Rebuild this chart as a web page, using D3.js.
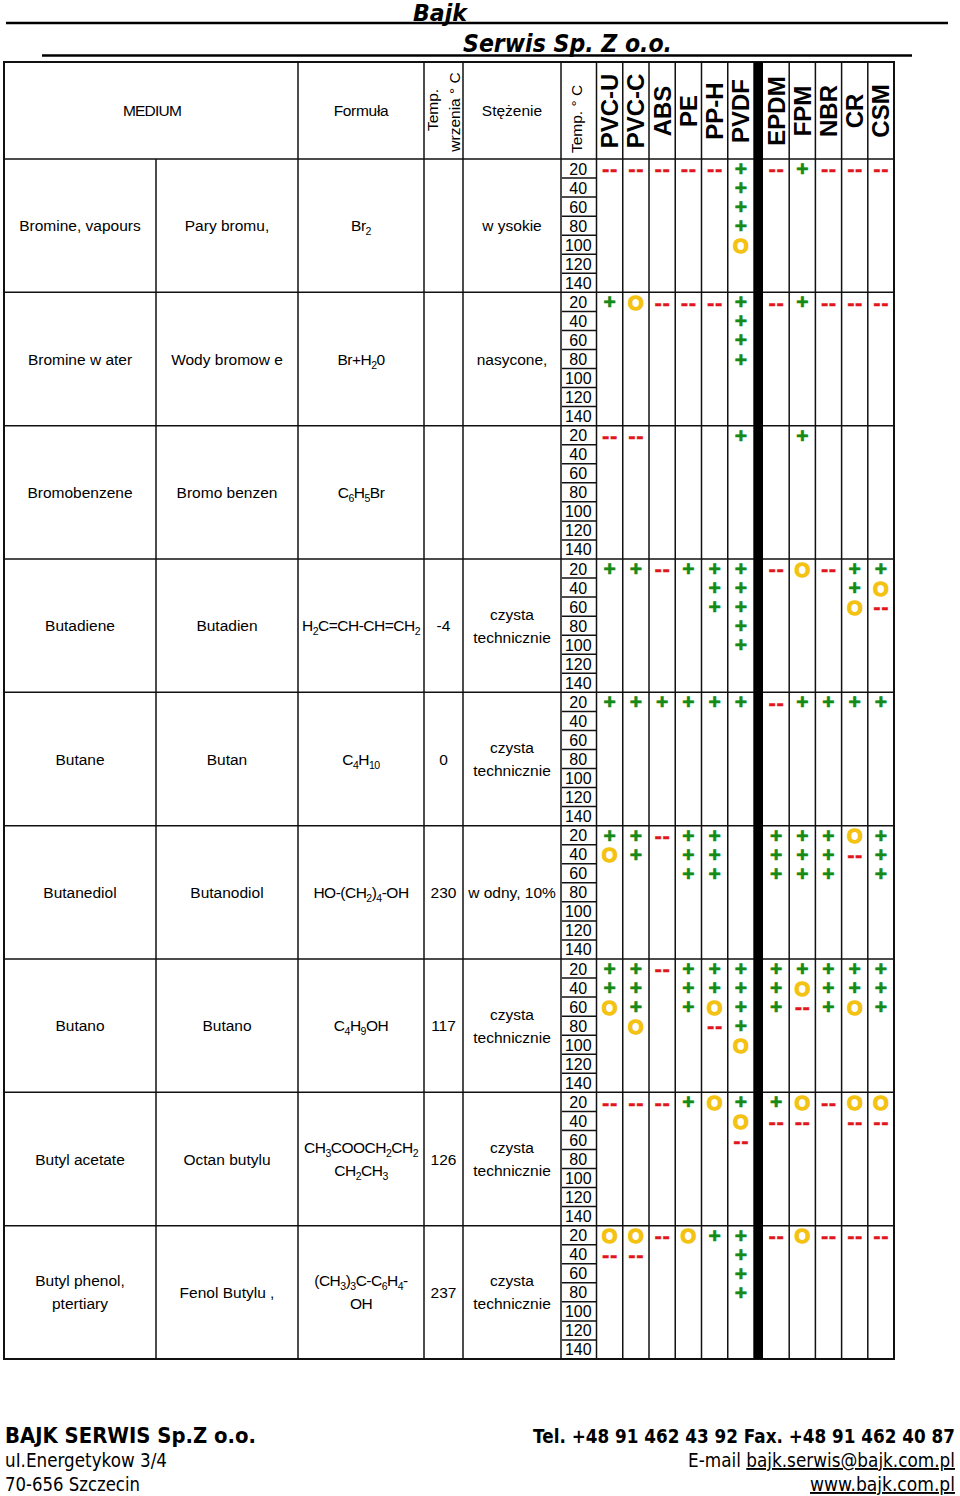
<!DOCTYPE html>
<html><head><meta charset="utf-8">
<script src="https://cdn.jsdelivr.net/npm/d3@7"></script>
<style>
body{margin:0;background:#fff;}
svg{display:block;}
</style></head>
<body>
<script>
// ---------- DATA ----------
const materials = ["PVC-U","PVC-C","ABS","PE","PP-H","PVDF","EPDM","FPM","NBR","CR","CSM"];
const temps = [20,40,60,80,100,120,140];
const mediumEn = ["Bromine, vapours","Bromine w ater","Bromobenzene","Butadiene","Butane","Butanediol","Butano","Butyl acetate","Butyl phenol,\nptertiary"];
const mediumPl = ["Pary bromu,","Wody bromow e","Bromo benzen","Butadien","Butan","Butanodiol","Butano","Octan butylu","Fenol Butylu ,"];
const formulas = ["Br{2}","Br+H{2}0","C{6}H{5}Br","H{2}C=CH-CH=CH{2}","C{4}H{10}","HO-(CH{2}){4}-OH","C{4}H{9}OH","CH{3}COOCH{2}CH{2}\nCH{2}CH{3}","(CH{3}){3}C-C{6}H{4}-\nOH"];
const boilTemps = ["","","","-4","0","230","117","126","237"];
const concentrations = ["w ysokie","nasycone,","","czysta\ntechnicznie","czysta\ntechnicznie","w odny, 10%","czysta\ntechnicznie","czysta\ntechnicznie","czysta\ntechnicznie"];
// ratings per medium, one string per temperature; columns follow `materials`
// '+' resistant, 'o' limited, '-' not resistant, '.' no data
const ratings = [
  ["-----+-+---",".....+.....",".....+.....",".....+.....",".....o.....","...........","..........."],
  ["+o---+-+---",".....+.....",".....+.....",".....+.....","...........","...........","..........."],
  ["--...+.+...","...........","...........","...........","...........","...........","..........."],
  ["++-+++-o-++","....++...+o","....++...o-",".....+.....",".....+.....","...........","..........."],
  ["++++++-++++","...........","...........","...........","...........","...........","..........."],
  ["++-++.+++o+","o+.++.+++-+","...++.+++.+","...........","...........","...........","..........."],
  ["++-++++++++","++.++++o+++","o+.+o++-+o+",".o..-+.....",".....o.....","...........","..........."],
  ["---+o++o-oo",".....o--.--",".....-.....","...........","...........","...........","..........."],
  ["oo-o++-o---","--...+.....",".....+.....",".....+.....","...........","...........","..........."]
];
const headerLabels = {medium:"MEDIUM", formula:"Formuła", boil:["Temp.","wrzenia ° C"], conc:"Stężenie", temp:"Temp. ° C"};
const titleLines = ["Bajk","Serwis Sp. Z o.o."];
const footerLeft = ["BAJK SERWIS Sp.Z o.o.","uI.Energetykow 3/4","70-656 Szczecin"];
const footerRight = [["Tel. +48 91 462 43 92 Fax. +48 91 462 40 87",""],["E-mail ","bajk.serwis@bajk.com.pl"],["","www.bajk.com.pl"]];

// ---------- LAYOUT ----------
const W = 960, H = 1496;
const svg = d3.select("body").append("svg").attr("width",W).attr("height",H);
const FONT = "'Liberation Sans', Arial, sans-serif";
const TFONT = "'DejaVu Sans', Verdana, sans-serif";

const tableL = 4, tableR = 894, headTop = 62, headBot = 159, bodyBot = 1359;
const colEdges = {en:[4,156], pl:[156,298], formula:[298,424], boil:[424,463], conc:[463,561], temp:[561,596.5]};
const xA = d3.scaleBand().domain(materials.slice(0,6)).range([596.5,754]);
const xB = d3.scaleBand().domain(materials.slice(6)).range([763,894]);
const xMat = m => (xA.domain().includes(m) ? xA(m) : xB(m));
const bw = m => (xA.domain().includes(m) ? xA.bandwidth() : xB.bandwidth());
const yGroup = d3.scaleBand().domain(d3.range(mediumEn.length)).range([headBot, bodyBot]);
const yTemp = d3.scaleBand().domain(temps).range([0, yGroup.bandwidth()]);

// ---------- TITLE ----------
svg.append("text").attr("x",413).attr("y",21).attr("textLength",54).attr("lengthAdjust","spacingAndGlyphs")
  .style("font-family",TFONT).style("font-weight","bold").style("font-style","italic").style("font-size","23px")
  .text(titleLines[0]);
svg.append("line").attr("x1",6).attr("x2",948).attr("y1",23).attr("y2",23).attr("stroke","#000").attr("stroke-width",2.5);
svg.append("text").attr("x",463).attr("y",52).attr("textLength",209).attr("lengthAdjust","spacingAndGlyphs")
  .style("font-family",TFONT).style("font-weight","bold").style("font-style","italic").style("font-size","25px")
  .text(titleLines[1]);
svg.append("line").attr("x1",42).attr("x2",912).attr("y1",55.5).attr("y2",55.5).attr("stroke","#000").attr("stroke-width",2.5);

// ---------- GRID ----------
const g = svg.append("g").attr("stroke","#111").attr("stroke-width",1.5);
[298,424,463,561,596.5].concat(materials.map(m=>xMat(m)+bw(m))).forEach(x=>{
  g.append("line").attr("x1",x).attr("x2",x).attr("y1",headTop).attr("y2",bodyBot);
});
g.append("line").attr("x1",156).attr("x2",156).attr("y1",headBot).attr("y2",bodyBot);
d3.range(mediumEn.length).forEach(i=>{
  const y = yGroup(i);
  g.append("line").attr("x1",tableL).attr("x2",tableR).attr("y1",y).attr("y2",y);
  temps.slice(0,-1).forEach(t=>{
    const yy = y + yTemp(t) + yTemp.bandwidth();
    g.append("line").attr("x1",562).attr("x2",596.5).attr("y1",yy).attr("y2",yy);
  });
});
g.append("rect").attr("x",tableL).attr("y",headTop).attr("width",tableR-tableL).attr("height",bodyBot-headTop)
  .attr("fill","none").attr("stroke-width",2);
svg.append("rect").attr("x",754).attr("y",headTop).attr("width",9).attr("height",bodyBot-headTop).attr("fill","#000");

// ---------- HEADER TEXT ----------
const hMid = (headTop+headBot)/2;
const ht = (x,y,txt,opts={})=>svg.append("text").attr("x",x).attr("y",y).attr("text-anchor","middle")
  .style("font-family",FONT).style("font-size",(opts.size||15)+"px").style("font-weight",opts.bold?"bold":"normal")
  .style("letter-spacing",opts.ls||"0px").attr("fill","#000").attr("transform",opts.rot?`rotate(-90,${x},${y})`:null).text(txt);
ht(152, hMid+5, headerLabels.medium, {ls:"-0.8px", size:15.5});
ht(361, hMid+5, headerLabels.formula, {ls:"-0.3px", size:15.5});
ht(437.5, 110, headerLabels.boil[0], {rot:true, size:15.5});
ht(460, 112, headerLabels.boil[1], {rot:true, size:15.5});
ht(512, hMid+5, headerLabels.conc, {size:15.5});
ht(582, 119, headerLabels.temp, {rot:true, size:15.5});
materials.forEach(m=>{
  const cx = xMat(m)+bw(m)/2 + 8.5;
  ht(cx, 111, m, {rot:true, bold:true, size:24});
});

// ---------- BODY TEXT ----------
function multiline(x, yc, str, fmt){
  const lines = str.split("\n");
  const gap = 23;
  lines.forEach((ln,k)=>{
    const y = yc + 5.5 + (k-(lines.length-1)/2)*gap;
    const t = svg.append("text").attr("x",x).attr("y",y).attr("text-anchor","middle")
      .style("font-family",FONT).style("font-size","15.5px").attr("fill","#000");
    if(!fmt){ t.text(ln); return; }
    t.style("letter-spacing","-0.5px");
    const parts = ln.split(/(\{[^}]*\})/).filter(s=>s.length);
    let shifted = false;
    parts.forEach(p=>{
      const sub = p.startsWith("{");
      const txt = sub ? p.slice(1,-1) : p;
      const ts = t.append("tspan").text(txt);
      if(sub){ ts.style("font-size","10.5px"); if(!shifted){ ts.attr("dy",4); shifted=true; } }
      else if(shifted){ ts.attr("dy",-4); shifted=false; }
    });
  });
}
const cx = k => (colEdges[k][0]+colEdges[k][1])/2;
mediumEn.forEach((_,i)=>{
  const yc = yGroup(i)+yGroup.bandwidth()/2;
  multiline(cx("en"), yc, mediumEn[i]);
  multiline(cx("pl"), yc, mediumPl[i]);
  multiline(cx("formula"), yc, formulas[i], true);
  if(boilTemps[i]) multiline(cx("boil"), yc, boilTemps[i]);
  if(concentrations[i]) multiline(cx("conc"), yc, concentrations[i]);
  temps.forEach(t=>{
    svg.append("text").attr("x",cx("temp")-0.5).attr("y",yGroup(i)+yTemp(t)+yTemp.bandwidth()/2+6)
      .attr("text-anchor","middle").style("font-family",FONT).style("font-size","16px").attr("fill","#000").text(t);
  });
});

// ---------- SYMBOLS ----------
const symStyle = {
  "+":{txt:"+", color:"#168a16", size:21, dy:7.5, ls:0, sw:0.7},
  "o":{txt:"O", color:"#f3c212", size:20, dy:8.2, ls:0, sw:1.4},
  "-":{txt:"--", color:"#e2141c", size:22, dy:7.8, ls:0.5, sw:0.4}
};
const cells = [];
ratings.forEach((rows,i)=>rows.forEach((row,r)=>row.split("").forEach((c,j)=>{
  if(c!==".") cells.push({i, t:temps[r], m:materials[j], c});
})));
svg.append("g").selectAll("text").data(cells).join("text")
  .attr("x",d=>xMat(d.m)+bw(d.m)/2 + (d.c==="-"?0.3:0))
  .attr("y",d=>yGroup(d.i)+yTemp(d.t)+yTemp.bandwidth()/2+symStyle[d.c].dy)
  .attr("text-anchor","middle")
  .style("font-family",FONT).style("font-weight","bold")
  .style("font-size",d=>symStyle[d.c].size+"px")
  .style("letter-spacing",d=>symStyle[d.c].ls+"px")
  .attr("fill",d=>symStyle[d.c].color)
  .attr("stroke",d=>symStyle[d.c].color)
  .attr("stroke-width",d=>symStyle[d.c].sw)
  .text(d=>symStyle[d.c].txt);

// ---------- FOOTER ----------
const fBase = [1443,1467,1491];
const fLeftLen = [251,162,135];
footerLeft.forEach((s,k)=>{
  svg.append("text").attr("x",5).attr("y",fBase[k]).attr("textLength",fLeftLen[k]).attr("lengthAdjust","spacingAndGlyphs")
    .style("font-family",TFONT).style("font-size",k===0?"21px":"19px").style("font-weight",k===0?"bold":"normal")
    .attr("fill","#000").text(s);
});
const fRightLen = [422,267,145];
footerRight.forEach((p,k)=>{
  const t = svg.append("text").attr("x",955).attr("y",fBase[k]).attr("text-anchor","end")
    .attr("textLength",fRightLen[k]).attr("lengthAdjust","spacingAndGlyphs")
    .style("font-family",TFONT).style("font-size",k===0?"20px":"19px").style("font-weight",k===0?"bold":"normal")
    .attr("fill","#000");
  if(p[0]) t.append("tspan").text(p[0]);
  if(p[1]) t.append("tspan").style("text-decoration","underline").text(p[1]);
});
</script>
</body></html>
